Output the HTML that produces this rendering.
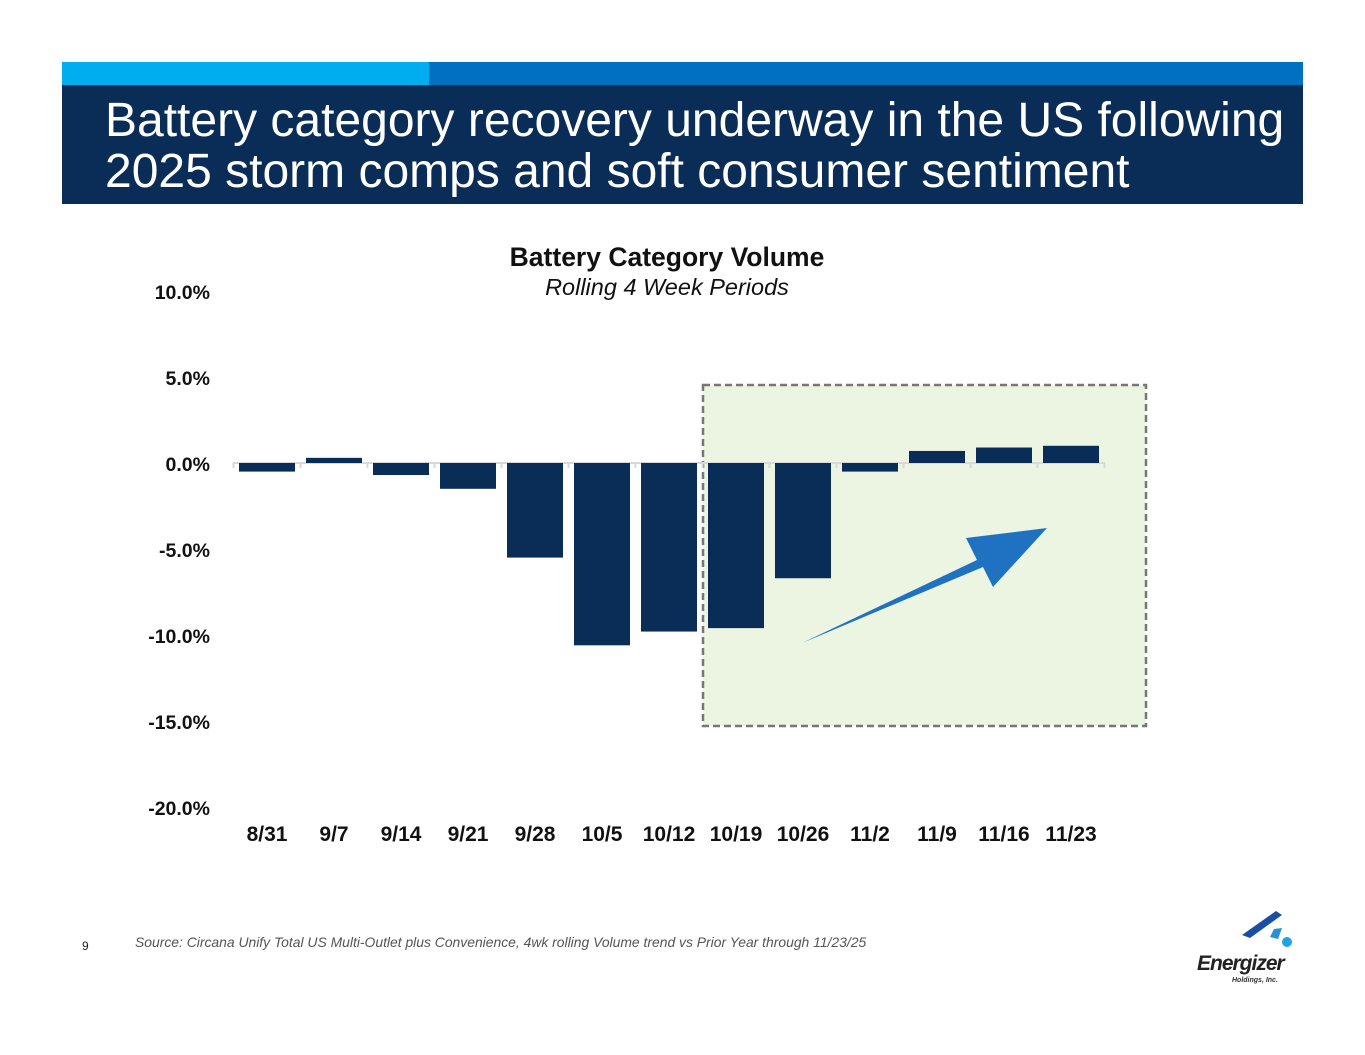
<!DOCTYPE html>
<html><head><meta charset="utf-8"><style>
body{margin:0;width:1365px;height:1055px;background:#fff;position:relative;overflow:hidden;font-family:"Liberation Sans",Arial,sans-serif}
.abs{position:absolute}
</style></head><body>
<div class="abs" style="left:62px;top:62px;width:367px;height:23px;background:#00aeef"></div>
<div class="abs" style="left:429px;top:62px;width:874px;height:23px;background:#0070c0"></div>
<div class="abs" style="left:62px;top:85px;width:1241px;height:119px;background:#0a2d57"></div>
<div class="abs" style="left:105px;top:95px;color:#fff;font-size:48px;line-height:51px;white-space:nowrap">Battery category recovery underway in the US following<br>2025 storm comps and soft consumer sentiment</div>
<svg class="abs" style="left:0;top:0" width="1365" height="1055">
<text x="667" y="266" text-anchor="middle" font-size="26.5" font-weight="bold" fill="#111">Battery Category Volume</text>
<text x="667" y="295" text-anchor="middle" font-size="23.5" font-style="italic" fill="#111">Rolling 4 Week Periods</text>
<rect x="703" y="385" width="443" height="341" fill="#ebf5e1" stroke="#777" stroke-width="2.5" stroke-dasharray="7,4"/>
<g id="plot"></g>
<polygon points="802,643 977,560 966,538 1047,528 993,587 983,567" fill="#1f72c2"/>
</svg>
<div class="abs" style="left:82px;top:939px;font-size:12px;color:#222">9</div>
<div class="abs" style="left:135px;top:934px;font-size:13.9px;font-style:italic;color:#555;white-space:nowrap">Source: Circana Unify Total US Multi-Outlet plus Convenience, 4wk rolling Volume trend vs Prior Year through 11/23/25</div>
<svg class="abs" style="left:1190px;top:905px" width="110" height="85">
<polygon points="52,30 86,6 92,10 60,33" fill="#1a4ea3"/>
<polygon points="80,32 84,24 92,23 88,34" fill="#2a8fd8"/>
<circle cx="97" cy="37" r="5" fill="#1fa3e8"/>
<text x="7" y="65" font-size="21" font-weight="bold" font-style="italic" fill="#222" letter-spacing="-1">Energizer</text>
<text x="42" y="77" font-size="7" font-weight="bold" font-style="italic" fill="#333">Holdings, Inc.</text>
</svg>
<script>
const categories=["8/31","9/7","9/14","9/21","9/28","10/5","10/12","10/19","10/26","11/2","11/9","11/16","11/23"];
const values=[-0.5,0.3,-0.7,-1.5,-5.5,-10.6,-9.8,-9.6,-6.7,-0.5,0.7,0.9,1.0];
const yTicks=[10,5,0,-5,-10,-15,-20];
const yTickLabels=["10.0%","5.0%","0.0%","-5.0%","-10.0%","-15.0%","-20.0%"];
const NS="http://www.w3.org/2000/svg";
const g=document.getElementById('plot');
function y(v){return 463-v*17.2;}
function x(i){return 267+i*67.0;}
function mk(t,a){const e=document.createElementNS(NS,t);for(const k in a)e.setAttribute(k,a[k]);g.appendChild(e);return e;}
yTicks.forEach((v,i)=>{const t=mk('text',{x:210,y:y(v)+8,'text-anchor':'end','font-size':19.5,'font-weight':'bold',fill:'#111'});t.textContent=yTickLabels[i];

});
const ax=mk('line',{x1:233,x2:1105,y1:463,y2:463,stroke:'#d8d8d8','stroke-width':2});


for(let i=0;i<=categories.length;i++){const tk=mk('line',{x1:233.5+i*67.0,x2:233.5+i*67.0,y1:463,y2:468,stroke:'#d8d8d8','stroke-width':2});

}
values.forEach((v,i)=>{const top=Math.min(y(v),y(0)),h=Math.abs(y(v)-y(0));
const r=mk('rect',{x:x(i)-28,y:top,width:56,height:Math.max(h,1),fill:'#0a2d57'});


const t=mk('text',{x:x(i),y:841,'text-anchor':'middle','font-size':21,'font-weight':'bold',fill:'#111'});t.textContent=categories[i];

});
</script>
</body></html>
